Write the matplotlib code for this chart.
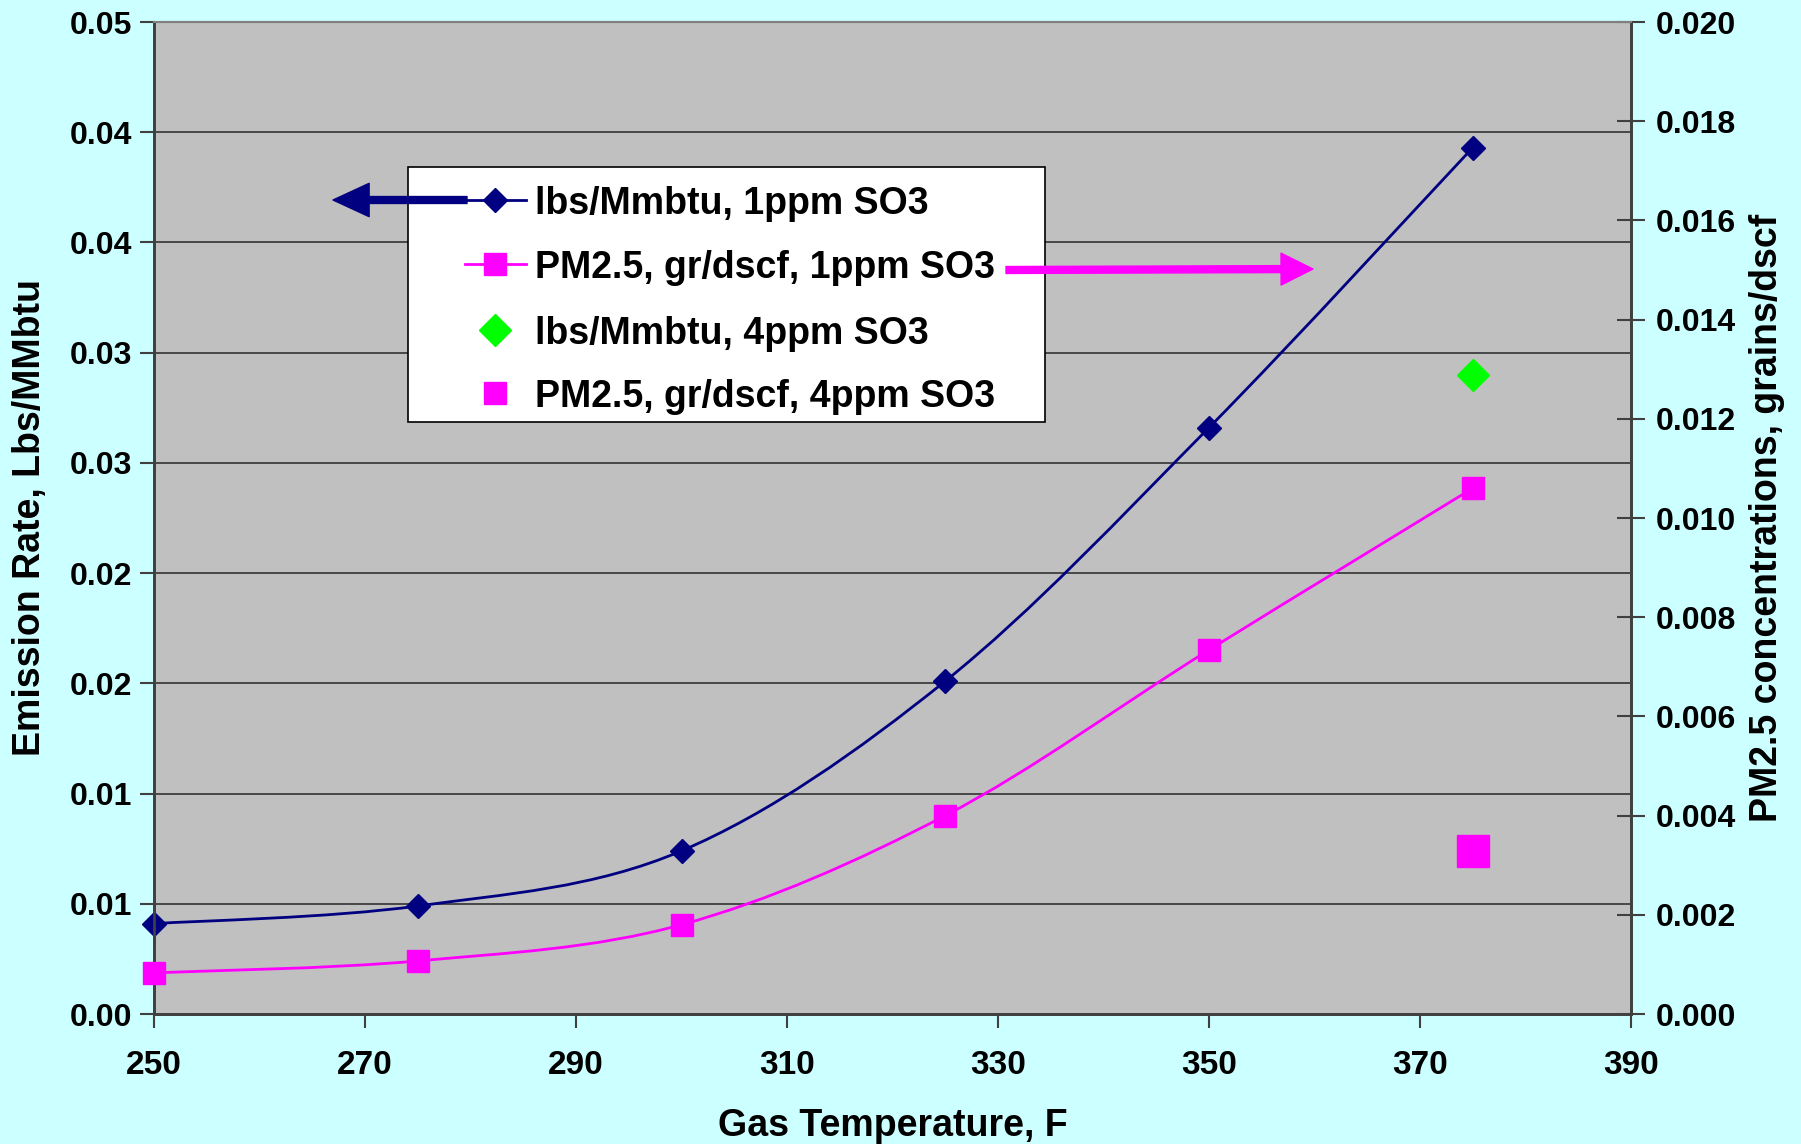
import numpy as np
import matplotlib
matplotlib.use("Agg")
import matplotlib.pyplot as plt
from matplotlib.path import Path
from matplotlib.patches import PathPatch, Rectangle
from matplotlib.lines import Line2D
from matplotlib.transforms import Affine2D

# Emission rate vs gas temperature, 1 ppm SO3 runs
temps = [250, 275, 300, 325, 350, 375]
lbs_1ppm = [0.0041, 0.0049, 0.0074, 0.0151, 0.0266, 0.0393]
pm25_1ppm = [0.00083, 0.00107, 0.0018, 0.0040, 0.00734, 0.0106]

# Single 4 ppm SO3 run
temp_4ppm = [375]
lbs_4ppm = [0.0290]
pm25_4ppm = [0.00328]

left_ticks = [0.0, 0.005, 0.01, 0.015, 0.02, 0.025, 0.03, 0.035, 0.04, 0.045]
left_labels = ['0.00', '0.01', '0.01', '0.02', '0.02', '0.03', '0.03', '0.04', '0.04', '0.05']
right_ticks = [0.0, 0.002, 0.004, 0.006, 0.008, 0.010, 0.012, 0.014, 0.016, 0.018, 0.020]
right_labels = ['0.000', '0.002', '0.004', '0.006', '0.008', '0.010', '0.012', '0.014',
                '0.016', '0.018', '0.020']
x_ticks = [250, 270, 290, 310, 330, 350, 370, 390]

legend_labels = ['lbs/Mmbtu, 1ppm SO3', 'PM2.5, gr/dscf, 1ppm SO3',
                 'lbs/Mmbtu, 4ppm SO3', 'PM2.5, gr/dscf, 4ppm SO3']

NAVY = '#000080'
MAGENTA = '#FF00FF'
GREEN = '#00FF00'
FONT = ['Liberation Sans', 'DejaVu Sans']


def smooth_path(xs, ys):
    """Bezier path through the points, Excel-style smoothed line."""
    pts = np.column_stack([xs, ys]).astype(float)
    n = len(pts)
    verts = [pts[0]]
    codes = [Path.MOVETO]
    for i in range(n - 1):
        p0 = pts[max(i - 1, 0)]
        p1 = pts[i]
        p2 = pts[i + 1]
        p3 = pts[min(i + 2, n - 1)]
        verts += [p1 + (p2 - p0) / 6, p2 - (p3 - p1) / 6, p2]
        codes += [Path.CURVE4] * 3
    return Path(verts, codes)


W, H = 1801, 1144
fig = plt.figure(figsize=(W / 100, H / 100), dpi=100, facecolor='#CCFFFF')
# pixel coordinates measured from the top-left corner
px = Affine2D().scale(1 / W, -1 / H).translate(0, 1) + fig.transFigure

ax = fig.add_axes([154 / W, 1 - 1014 / H, (1631 - 154) / W, (1014 - 22) / H])
ax.set_facecolor('#C0C0C0')
ax2 = ax.twinx()

ax.set_xlim(250, 390)
ax.set_ylim(0, 0.045)
ax2.set_ylim(0, 0.020)

# horizontal gridlines from the left axis only
for t in left_ticks[1:]:
    ax.axhline(t, color='#333333', lw=1.2, zorder=0.5)

# 1 ppm curves
ax.add_patch(PathPatch(smooth_path(temps, lbs_1ppm), fill=False, ec=NAVY, lw=2, zorder=2))
ax.plot(temps, lbs_1ppm, ls='none', marker='D', ms=12, color=NAVY, zorder=3, clip_on=False)
ax2.add_patch(PathPatch(smooth_path(temps, pm25_1ppm), fill=False, ec=MAGENTA, lw=2, zorder=2))
ax2.plot(temps, pm25_1ppm, ls='none', marker='s', ms=16, color=MAGENTA, zorder=3, clip_on=False)

# 4 ppm points
ax.plot(temp_4ppm, lbs_4ppm, ls='none', marker='D', ms=16, color=GREEN, zorder=3)
ax2.plot(temp_4ppm, pm25_4ppm, ls='none', marker='s', ms=23, color=MAGENTA, zorder=3)

# axes styling
ax.set_xticks(x_ticks)
ax.set_xticklabels([str(v) for v in x_ticks], family=FONT, fontweight='bold', fontsize=24)
ax.set_yticks(left_ticks)
ax.set_yticklabels(left_labels, family=FONT, fontweight='bold', fontsize=23)
ax2.set_yticks(right_ticks)
ax2.set_yticklabels(right_labels, family=FONT, fontweight='bold', fontsize=23)

ax.tick_params(axis='x', direction='out', length=10, width=1.5, color='#404040', pad=16)
ax.tick_params(axis='y', direction='out', length=10, width=1.5, color='#404040', pad=6)
ax2.tick_params(axis='y', direction='inout', length=20, width=1.5, color='#404040', pad=8)

for a in (ax, ax2):
    for side in ('left', 'bottom', 'right'):
        a.spines[side].set_color('#404040')
        a.spines[side].set_linewidth(2)
    a.spines['top'].set_color('#808080')
    a.spines['top'].set_linewidth(1.5)

ax.set_xlabel('Gas Temperature, F', family=FONT, fontweight='bold', fontsize=27, labelpad=19)
ax.set_ylabel('Emission Rate, Lbs/MMbtu', family=FONT, fontweight='bold', fontsize=27,
              labelpad=15)
ax2.set_ylabel('PM2.5 concentrations, grains/dscf', family=FONT, fontweight='bold',
               fontsize=27, labelpad=9)

# legend box
fig.add_artist(Rectangle((408, 167), 637, 255, transform=px, fc='white', ec='black',
                         lw=1.2, zorder=5))
row_y = [200, 264, 330, 393]
legend_handles = [
    dict(color=NAVY, ls='-', marker='D', ms=12),
    dict(color=MAGENTA, ls='-', marker='s', ms=16),
    dict(color=GREEN, ls='none', marker='D', ms=16),
    dict(color=MAGENTA, ls='none', marker='s', ms=16),
]
for y, style, label in zip(row_y, legend_handles, legend_labels):
    fig.add_artist(Line2D([465, 526], [y, y], transform=px, lw=2, zorder=6,
                          color=style['color'], ls=style['ls']))
    fig.add_artist(Line2D([495], [y], transform=px, zorder=6, ls='none',
                          color=style['color'], marker=style['marker'], ms=style['ms']))
    fig.text(535, y, label, transform=px, ha='left', va='center_baseline', zorder=6,
             family=FONT, fontweight='bold', fontsize=27)

# arrows pointing at the axis each series belongs to
fig.add_artist(plt.Annotation('', xy=(333, 200), xytext=(467, 200), xycoords=px,
               textcoords=px, zorder=7,
               arrowprops=dict(arrowstyle='simple,tail_width=0.5,head_width=2.4,head_length=2.6',
                               mutation_scale=10, color=NAVY, shrinkA=0, shrinkB=0)))
fig.add_artist(plt.Annotation('', xy=(1313, 269), xytext=(1006, 270), xycoords=px,
               textcoords=px, zorder=7,
               arrowprops=dict(arrowstyle='simple,tail_width=0.5,head_width=2.3,head_length=2.3',
                               mutation_scale=10, color=MAGENTA, shrinkA=0, shrinkB=0)))

fig.savefig('out.png', dpi=100, facecolor=fig.get_facecolor())
